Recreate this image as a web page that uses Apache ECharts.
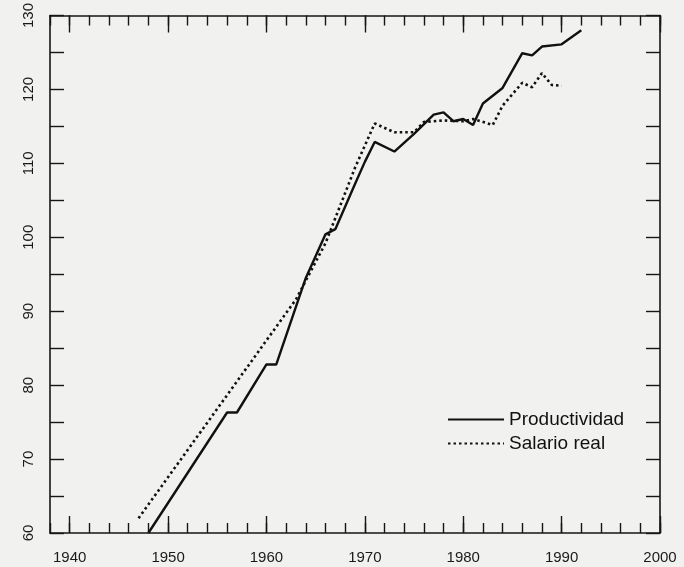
<!DOCTYPE html>
<html>
<head>
<meta charset="utf-8">
<script src="https://cdn.jsdelivr.net/npm/echarts@6/dist/echarts.min.js"></script>
<style>
  html, body { margin: 0; padding: 0; background: #f1f1ef; }
  #chart { width: 684px; height: 567px; }
</style>
</head>
<body>
<div id="chart"></div>
<script>
// Productividad y salario real (índice)
var prodYears = [1948, 1956, 1957, 1960, 1961, 1964, 1966, 1967, 1969, 1970, 1971, 1973, 1975, 1977, 1978, 1979, 1980, 1981, 1982, 1984, 1986, 1987, 1988, 1990, 1992];
var prodValues = [60.0, 76.3, 76.3, 82.8, 82.8, 94.5, 100.4, 101.1, 107.2, 110.2, 112.9, 111.6, 114.0, 116.6, 116.9, 115.7, 116.0, 115.2, 118.1, 120.2, 124.9, 124.6, 125.8, 126.1, 128.0];

var salYears = [1947, 1963, 1966, 1969, 1971, 1973, 1975, 1976, 1978, 1980, 1981, 1983, 1984, 1986, 1987, 1988, 1989, 1990];
var salValues = [62.0, 91.6, 99.2, 109.4, 115.4, 114.2, 114.2, 115.6, 115.8, 115.7, 116.0, 115.2, 117.8, 120.9, 120.3, 122.2, 120.6, 120.5];

var decadeTicks = [1940, 1950, 1960, 1970, 1980, 1990, 2000];
var seriesNames = ['Productividad', 'Salario real'];

var ink = '#161616';
var labelFont = '"Liberation Sans", Arial, sans-serif';

function pairs(xs, ys) {
  var out = [];
  for (var i = 0; i < xs.length; i++) out.push([xs[i], ys[i]]);
  return out;
}

function xAxisBase(pos) {
  return {
    type: 'value', position: pos, min: 1938, max: 2000, interval: 2,
    axisLine: { show: true, lineStyle: { color: ink, width: 1.6 } },
    axisTick: { show: true, inside: true, length: 10, lineStyle: { color: ink, width: 1.4 } },
    axisLabel: { show: false },
    splitLine: { show: false }
  };
}

function xAxisMajor(pos) {
  return {
    type: 'value', position: pos, min: 1938, max: 2000,
    axisLine: { show: false },
    axisTick: { show: true, inside: true, length: 17, customValues: decadeTicks, lineStyle: { color: ink, width: 1.4 } },
    axisLabel: { show: false },
    splitLine: { show: false }
  };
}

var bottomAxis = xAxisBase('bottom');
bottomAxis.axisLabel = {
  show: true, customValues: decadeTicks, margin: 17,
  color: '#1a1a1a', fontSize: 15, fontFamily: labelFont,
  formatter: function (v) { return String(v); }
};

var chart = echarts.init(document.getElementById('chart'));
chart.setOption({
  backgroundColor: '#f1f1ef',
  animation: false,
  color: ['#111', '#111'],
  grid: { left: 50, right: 24, top: 12, bottom: 34 },
  legend: {
    data: seriesNames,
    orient: 'vertical',
    left: 447, top: 410,
    padding: 0,
    itemWidth: 56, itemHeight: 14, itemGap: 5,
    itemStyle: { opacity: 0 },
    textStyle: { color: '#111', fontSize: 19, fontFamily: labelFont }
  },
  xAxis: [bottomAxis, xAxisMajor('bottom'), xAxisBase('top'), xAxisMajor('top')],
  yAxis: [
    {
      type: 'value', position: 'left', min: 60, max: 130, interval: 5,
      axisLine: { show: true, lineStyle: { color: ink, width: 1.6 } },
      axisTick: { show: true, inside: true, length: 14, lineStyle: { color: ink, width: 1.4 } },
      axisLabel: {
        rotate: 90, margin: 14, color: '#1a1a1a', fontSize: 15, fontFamily: labelFont,
        formatter: function (v) { return v % 10 === 0 ? String(v) : ''; }
      },
      splitLine: { show: false }
    },
    {
      type: 'value', position: 'right', min: 60, max: 130, interval: 5,
      axisLine: { show: true, lineStyle: { color: ink, width: 1.6 } },
      axisTick: { show: true, inside: true, length: 14, lineStyle: { color: ink, width: 1.4 } },
      axisLabel: { show: false },
      splitLine: { show: false }
    }
  ],
  series: [
    {
      name: seriesNames[0], type: 'line', xAxisIndex: 0, yAxisIndex: 0,
      data: pairs(prodYears, prodValues),
      symbol: 'none',
      itemStyle: { color: '#111' },
      lineStyle: { color: '#111', width: 2.4, type: 'solid' }
    },
    {
      name: seriesNames[1], type: 'line', xAxisIndex: 0, yAxisIndex: 0,
      data: pairs(salYears, salValues),
      symbol: 'none',
      itemStyle: { color: '#111' },
      lineStyle: { color: '#111', width: 2.6, type: [2.5, 3] }
    }
  ]
});
</script>
</body>
</html>
